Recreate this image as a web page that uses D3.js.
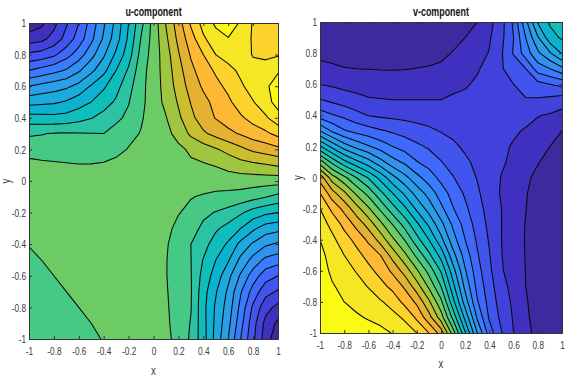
<!DOCTYPE html>
<html>
<head>
<meta charset="utf-8">
<script src="https://cdnjs.cloudflare.com/ajax/libs/d3/7.8.5/d3.min.js"></script>
<style>
html,body{margin:0;padding:0;background:#fff}
svg{display:block}
text{font-family:"Liberation Sans",Arial,sans-serif;fill:#3a3a3a}
.tick text{font-size:11.5px}
</style>
</head>
<body>
<svg id="c" width="570" height="380"></svg>
<script>
// grid coordinates of the field samples
const gridX = [-1,-0.9,-0.8,-0.7,-0.6,-0.5,-0.4,-0.3,-0.2,-0.1,0,0.1,0.2,0.3,0.4,0.5,0.6,0.7,0.8,0.9,1];
const gridY = [1,0.9,0.8,0.7,0.6,0.5,0.4,0.3,0.2,0.1,0,-0.1,-0.2,-0.3,-0.4,-0.5,-0.6,-0.7,-0.8,-0.9,-1];
const tickValues = [-1,-0.8,-0.6,-0.4,-0.2,0,0.2,0.4,0.6,0.8,1];
const levels = [1,2,3,4,5,6,7,8,9,10,11,12,13,14,15,16,17,18,19,20];
const bandColors = ["#3C2A9E","#3F30BF","#4141DB","#4154EE","#4068FA","#3A7CFF","#3290F0","#2A9EE6","#1CA9DD","#0CB3D1","#0FBDBA","#2BC3A3","#45C985","#6DCB66","#A0C640","#C8BE30","#E5B132","#FDB933","#FCD22D","#F5E724","#F9FB15"];

// field values in contour-level units, rows from y=1 down to y=-1
const uField = [
 [0.3,0.77,1.7,2.87,4,5.43,6.85,8.3,10,11.7,13.4,15.05,16.55,18.15,19.35,20.2,20.5,19.9,18.9,18.65,18.5],
 [1.5,1.7,2.37,3.35,4.45,5.75,7.15,8.55,10.2,12.05,13.4,14.8,16.25,17.55,18.85,19.55,19.95,19.5,18.9,18.7,18.65],
 [3.2,3.4,3.8,4.6,5.5,6.65,7.85,9.2,10.55,12.35,13.45,14.55,15.9,17.1,18,19,19.4,19.35,18.95,18.8,18.9],
 [5,5.35,5.7,6.1,6.85,7.75,8.7,10,11.15,12.6,13.5,14.45,15.6,16.75,17.5,18.15,18.7,19.2,19.25,19.4,19.9],
 [7,7.3,7.55,7.8,8.3,9.1,9.85,10.65,11.65,12.7,13.52,14.35,15.4,16.4,17.15,17.7,18.25,18.85,19.4,19.85,20.4],
 [8.65,8.75,8.85,9.1,9.55,10,10.55,11.15,11.95,12.75,13.5,14.25,15.1,16.05,16.7,17.3,17.8,18.5,18.95,19.6,20.4],
 [10.4,10.35,10.3,10.4,10.65,10.95,11.35,11.8,12.2,12.9,13.45,13.95,14.8,15.75,16.5,17.05,17.45,17.85,18.35,18.85,19.6],
 [11.85,11.95,12.05,12.08,12.05,12.02,12,12.35,12.75,13.05,13.55,13.75,14.3,15.2,15.85,16.3,16.75,17.1,17.5,17.8,18.3],
 [12.67,12.55,12.5,12.45,12.4,12.45,12.55,12.75,13.05,13.4,13.6,13.7,13.8,14.15,14.5,14.9,15.3,15.75,16.2,16.45,16.75],
 [13.25,13.2,13.15,13.1,13.05,13.05,13.1,13.25,13.5,13.7,13.75,13.78,13.8,13.85,13.9,14.05,14.35,14.6,14.75,14.9,15.1],
 [13.5,13.55,13.6,13.62,13.65,13.68,13.7,13.75,13.78,13.8,13.85,13.75,13.6,13.55,13.45,13.45,13.45,13.45,13.45,13.45,13.4],
 [13.45,13.5,13.55,13.6,13.62,13.65,13.68,13.72,13.75,13.78,13.8,13.7,13.4,13.05,12.9,12.75,12.7,12.6,12.35,12.05,11.7],
 [13.35,13.4,13.48,13.55,13.6,13.62,13.65,13.68,13.72,13.75,13.78,13.5,13.05,12.75,12.2,11.95,11.65,11.15,10.55,10.2,10],
 [13.2,13.3,13.38,13.48,13.55,13.6,13.62,13.65,13.68,13.72,13.75,13.25,12.75,12.35,11.8,11.15,10.65,10,9.2,8.55,8.3],
 [13.03,13.15,13.28,13.4,13.48,13.55,13.6,13.62,13.65,13.68,13.7,13.1,12.55,12,11.35,10.55,9.85,8.7,7.85,7.15,6.85],
 [12.85,13,13.13,13.28,13.4,13.48,13.55,13.58,13.62,13.65,13.68,13.05,12.45,12.02,10.95,10,9.1,7.75,6.65,5.75,5.43],
 [12.7,12.85,13,13.13,13.28,13.4,13.48,13.52,13.58,13.62,13.65,13.05,12.4,12.05,10.65,9.55,8.3,6.85,5.5,4.45,4],
 [12.55,12.72,12.87,13,13.13,13.28,13.38,13.45,13.5,13.58,13.62,13.1,12.45,12.08,10.4,9.1,7.8,6.1,4.6,3.35,2.87],
 [12.45,12.6,12.75,12.88,13,13.13,13.28,13.35,13.45,13.52,13.6,13.15,12.5,12.05,10.3,8.85,7.55,5.7,3.8,2.37,1.7],
 [12.35,12.5,12.62,12.75,12.88,13,13.13,13.25,13.35,13.45,13.55,13.2,12.55,11.95,10.35,8.75,7.3,5.35,3.4,1.7,0.77],
 [12.3,12.4,12.5,12.6,12.75,12.9,13.03,13.2,13.35,13.45,13.5,13.25,12.67,11.85,10.4,8.65,7,5,3.2,1.5,0.3]
];
const vField = [
 [0.3,0.25,0.2,0.17,0.15,0.15,0.15,0.17,0.2,0.27,0.4,0.55,0.72,1,1.67,2.65,4.2,6.7,9.1,10.15,10.8],
 [0.45,0.38,0.32,0.27,0.25,0.25,0.25,0.27,0.3,0.38,0.5,0.72,1,1.35,1.9,2.75,4,6,7.9,9.6,10.15],
 [0.7,0.6,0.5,0.47,0.45,0.45,0.45,0.47,0.5,0.62,0.8,1.05,1.35,1.65,2.05,2.9,4.1,5.5,6.8,7.9,9.1],
 [1.35,1.2,1.05,1,0.98,0.96,0.95,0.97,1.02,1.08,1.15,1.35,1.6,1.9,2.35,2.95,3.3,4,5.5,6,6.75],
 [2,1.85,1.7,1.6,1.5,1.45,1.42,1.43,1.45,1.52,1.62,1.75,1.9,2.15,2.4,2.7,3,3.3,3.7,4,4.3],
 [3.05,2.75,2.5,2.3,2.1,2.05,2,2,2,2,2,2.15,2.2,2.3,2.45,2.55,2.7,2.95,2.9,2.75,2.5],
 [4.5,4.1,3.75,3.3,2.95,2.83,2.75,2.7,2.65,2.6,2.55,2.5,2.45,2.42,2.4,2.45,2.5,2.35,2.05,1.9,1.67],
 [7,5.85,5.1,4.7,4.4,4.1,3.85,3.6,3.35,3.15,2.95,2.8,2.65,2.5,2.42,2.3,2.15,1.9,1.65,1.35,1],
 [10.1,8.7,7.5,6.7,6.1,5.55,5,4.6,4.2,3.85,3.45,3.15,2.85,2.65,2.45,2.2,1.9,1.6,1.35,1,0.72],
 [13.5,11.7,10.3,9.3,8.4,7.35,6.4,5.8,5.05,4.6,4.05,3.55,3.15,2.8,2.5,2.15,1.75,1.35,1.05,0.72,0.55],
 [16.6,14.45,13.25,12,10.9,9.65,8.3,7.3,6.3,5.5,4.7,4.05,3.45,2.95,2.55,1.95,1.55,1.15,0.8,0.5,0.4],
 [18,16.4,15.2,13.8,12.65,11.25,10,8.8,7.6,6.6,5.5,4.6,3.85,3.15,2.5,1.9,1.47,1.06,0.65,0.4,0.27],
 [19,17.75,16.7,15.4,14.15,12.8,11.4,10.2,8.8,7.6,6.25,5.05,4.2,3.35,2.65,2,1.45,1.02,0.5,0.3,0.2],
 [19.5,18.7,17.7,16.7,15.6,14.25,12.95,11.6,10.2,8.8,7.3,5.8,4.6,3.6,2.75,2,1.43,0.97,0.47,0.27,0.17],
 [20,19.25,18.45,17.7,16.8,15.6,14.2,12.95,11.35,10,8.3,6.4,5,3.85,2.9,2,1.42,0.95,0.45,0.25,0.15],
 [20.3,19.6,19,18.35,17.65,17,15.6,14.25,12.75,11.25,9.65,7.35,5.55,4.1,3.05,2.03,1.45,0.96,0.45,0.25,0.15],
 [20.5,19.8,19.35,18.95,18.3,17.65,16.8,15.6,14.15,12.65,10.9,8.4,6.1,4.4,3.2,2.1,1.5,0.98,0.45,0.25,0.15],
 [20.65,20.1,19.7,19.35,18.95,18.35,17.7,16.85,15.45,13.8,12,9.3,6.7,4.7,3.4,2.35,1.65,1,0.47,0.27,0.17],
 [20.8,20.35,20,19.7,19.45,19.1,18.65,17.7,16.8,15.2,13.25,10.3,7.5,5.1,3.6,2.55,1.8,1.1,0.55,0.32,0.2],
 [20.9,20.55,20.35,20.15,19.9,19.65,19.3,18.85,17.8,16.4,14.5,11.7,8.7,5.85,3.85,2.75,1.9,1.17,0.6,0.38,0.25],
 [21,20.9,20.8,20.65,20.5,20.3,19.95,19.5,19,18,16.6,13.5,10.1,7,4.5,3.05,2,1.3,0.7,0.45,0.3]
];

const svg = d3.select("#c");
const fmt = d => String(d);
function narrow(sel, k){
  sel.each(function(){
    const w = this.getComputedTextLength();
    d3.select(this).attr("textLength",w*k).attr("lengthAdjust","spacingAndGlyphs");
  });
}

function panel(id, title, field, L, R, T, B, titleY, xLabelY, yLabelX){
  const x = d3.scaleLinear().domain([-1,1]).range([L,R]);
  const y = d3.scaleLinear().domain([-1,1]).range([B,T]);
  const nx = gridX.length, ny = gridY.length;
  const stepX = gridX[1]-gridX[0], stepY = gridY[1]-gridY[0];
  const path = d3.geoPath(d3.geoTransform({
    point(cx,cy){
      this.stream.point(x(gridX[0]+(cx-0.5)*stepX), y(gridY[0]+(cy-0.5)*stepY));
    }
  }));
  const g = svg.append("g");
  svg.append("defs").append("clipPath").attr("id",id)
    .append("rect").attr("x",L).attr("y",T).attr("width",R-L).attr("height",B-T);
  const plot = g.append("g").attr("clip-path",`url(#${id})`);
  plot.append("rect").attr("x",L).attr("y",T).attr("width",R-L).attr("height",B-T).attr("fill",bandColors[0]);
  const gen = d3.contours().size([nx,ny]).thresholds(levels);
  plot.selectAll("path").data(gen(field.flat())).join("path")
    .attr("d",path)
    .attr("fill",d=>bandColors[d.value])
    .attr("stroke","#0a0a0a")
    .attr("stroke-width",1.05)
    .attr("stroke-linejoin","round");

  const style = s => { s.select(".domain").attr("stroke","#333"); s.selectAll("line").attr("stroke","#333"); };
  const xa = g.append("g").attr("transform",`translate(0,${B})`)
    .call(d3.axisBottom(x).tickValues(tickValues).tickFormat(fmt).tickSizeInner(-3).tickSizeOuter(0).tickPadding(8)).call(style);
  const ya = g.append("g").attr("transform",`translate(${L},0)`)
    .call(d3.axisLeft(y).tickValues(tickValues).tickFormat(fmt).tickSizeInner(-3).tickSizeOuter(0).tickPadding(3)).call(style);
  g.append("g").attr("transform",`translate(0,${T})`)
    .call(d3.axisTop(x).tickValues(tickValues).tickFormat("").tickSizeInner(-3).tickSizeOuter(0)).call(style);
  g.append("g").attr("transform",`translate(${R},0)`)
    .call(d3.axisRight(y).tickValues(tickValues).tickFormat("").tickSizeInner(-3).tickSizeOuter(0)).call(style);
  xa.selectAll("text").attr("font-size",null).call(narrow,0.72);
  ya.selectAll("text").attr("font-size",null).call(narrow,0.72);

  g.append("text").attr("x",(L+R)/2).attr("y",titleY).attr("text-anchor","middle")
    .attr("font-size",12).attr("font-weight","bold").style("fill","#111").text(title).call(narrow,0.74);
  g.append("text").attr("x",(L+R)/2).attr("y",xLabelY).attr("text-anchor","middle")
    .attr("font-size",12).text("x").call(narrow,0.8);
  g.append("text").attr("transform",`translate(${yLabelX},${(T+B)/2}) rotate(-90)`).attr("text-anchor","middle")
    .attr("font-size",12).text("y").call(narrow,0.8);
}
panel("clipU","u-component",uField,29,278,23,339,16,375,10);
panel("clipV","v-component",vField,320,562,22,333,16,368,302);
</script>
</body>
</html>
